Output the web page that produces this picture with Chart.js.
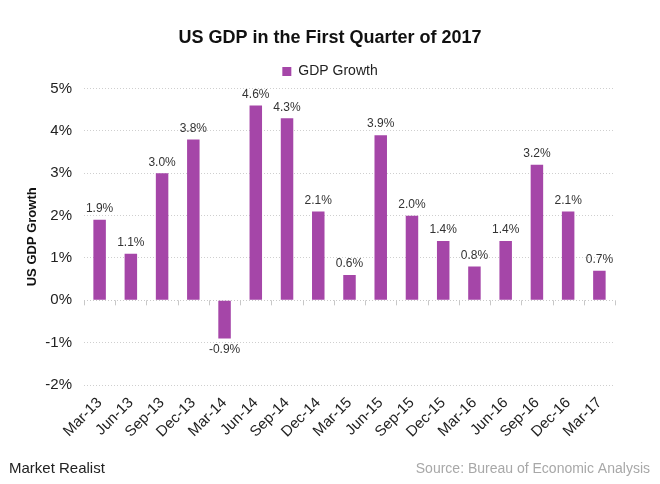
<!DOCTYPE html>
<html>
<head>
<meta charset="utf-8">
<script src="https://cdn.jsdelivr.net/npm/chart.js@4"></script>
<style>
  html, body { margin: 0; padding: 0; background: #fff; }
  #wrap { width: 660px; height: 484px; }
</style>
</head>
<body>
<div id="wrap"><canvas id="gdpChart" width="660" height="484"></canvas></div>
<script>
const quarters = ["Mar-13", "Jun-13", "Sep-13", "Dec-13", "Mar-14", "Jun-14", "Sep-14", "Dec-14",
    "Mar-15", "Jun-15", "Sep-15", "Dec-15", "Mar-16", "Jun-16", "Sep-16", "Dec-16", "Mar-17"];
const gdpGrowth = [1.9, 1.1, 3.0, 3.8, -0.9, 4.6, 4.3, 2.1, 0.6, 3.9, 2.0, 1.4, 0.8, 1.4, 3.2, 2.1, 0.7];
const yMin = -2;
const yMax = 5;

const FONT = "'Liberation Sans', Arial, sans-serif";

// etiquetas de valor y pie de pagina
const extras = {
    id: "extras",
    afterDatasetsDraw(chart) {
        const ctx = chart.ctx;
        const meta = chart.getDatasetMeta(0);
        ctx.save();
        ctx.font = "12px " + FONT;
        ctx.fillStyle = "#333";
        ctx.textAlign = "center";
        meta.data.forEach((bar, i) => {
            const v = gdpGrowth[i];
            if (v >= 0) {
                ctx.textBaseline = "bottom";
                ctx.fillText(v.toFixed(1) + "%", bar.x, bar.y - 5);
            } else {
                ctx.textBaseline = "top";
                ctx.fillText(v.toFixed(1) + "%", bar.x, bar.y + 5);
            }
        });
        // marcas en la linea de cero
        const x = chart.scales.x;
        const y0 = chart.scales.y.getPixelForValue(0);
        ctx.strokeStyle = "#c8c8c8";
        ctx.lineWidth = 1;
        ctx.beginPath();
        for (let i = 0; i <= quarters.length; i++) {
            const px = Math.round(x.getPixelForValue(i - 0.5)) + 0.5;
            ctx.moveTo(px, y0);
            ctx.lineTo(px, y0 + 5);
        }
        ctx.stroke();
        ctx.restore();
    },
    afterDraw(chart) {
        const ctx = chart.ctx;
        ctx.save();
        ctx.textBaseline = "middle";
        ctx.textAlign = "left";
        ctx.fillStyle = "#222";
        ctx.font = "15px " + FONT;
        ctx.fillText("Market Realist", 9, 469);
        ctx.textAlign = "right";
        ctx.fillStyle = "#a8a8a8";
        ctx.font = "14px " + FONT;
        ctx.fillText("Source: Bureau of Economic Analysis", 650, 469);
        ctx.restore();
    }
};

const ctx = document.getElementById("gdpChart").getContext("2d");
const gdpChart = new Chart(ctx, {
    type: "bar",
    data: {
        labels: quarters,
        datasets: [
            {
                label: "GDP Growth",
                data: gdpGrowth,
                backgroundColor: "#a546a8",
                borderWidth: 0,
                barPercentage: 0.4,
                categoryPercentage: 1.0,
            },
        ],
    },
    options: {
        responsive: false,
        animation: false,
        layout: { padding: { left: 10, right: 10, top: 0, bottom: 30 } },
        plugins: {
            title: {
                display: true,
                text: "US GDP in the First Quarter of 2017",
                color: "#111",
                font: { family: FONT, size: 18, weight: "bold" },
                padding: { top: 27, bottom: 8 },
            },
            legend: {
                display: true,
                labels: {
                    color: "#222",
                    font: { family: FONT, size: 14 },
                    boxWidth: 9,
                    boxHeight: 9,
                    padding: 8,
                },
            },
            tooltip: { enabled: false },
        },
        scales: {
            x: {
                grid: { display: false, drawTicks: false },
                border: { display: false },
                ticks: {
                    color: "#222",
                    font: { family: FONT, size: 15 },
                    minRotation: 45,
                    maxRotation: 45,
                    padding: 9,
                },
                afterFit(scale) { scale.height = 69; },
            },
            y: {
                min: yMin,
                max: yMax,
                border: { display: false, dash: [1, 2] },
                grid: {
                    color: (c) => (c.tick && c.tick.value === 0 ? "#c8c8c8" : "#cfcfcf"),
                    lineWidth: 1,
                    drawTicks: false,
                },
                ticks: {
                    stepSize: 1,
                    color: "#222",
                    font: { family: FONT, size: 15 },
                    padding: 12,
                    callback: (v) => v + "%",
                },
                title: {
                    display: true,
                    text: "US GDP Growth",
                    color: "#111",
                    font: { family: FONT, size: 13, weight: "bold" },
                    padding: { top: 15, bottom: 4 },
                },
                afterFit(scale) { scale.width = 74; },
            },
            // eje vacio a la derecha para dejar el margen
            yRight: {
                position: "right",
                min: yMin,
                max: yMax,
                grid: { display: false, drawTicks: false },
                border: { display: false },
                ticks: { display: false },
                afterFit(scale) { scale.width = 35; },
            },
        },
    },
    plugins: [extras],
});
</script>
</body>
</html>
